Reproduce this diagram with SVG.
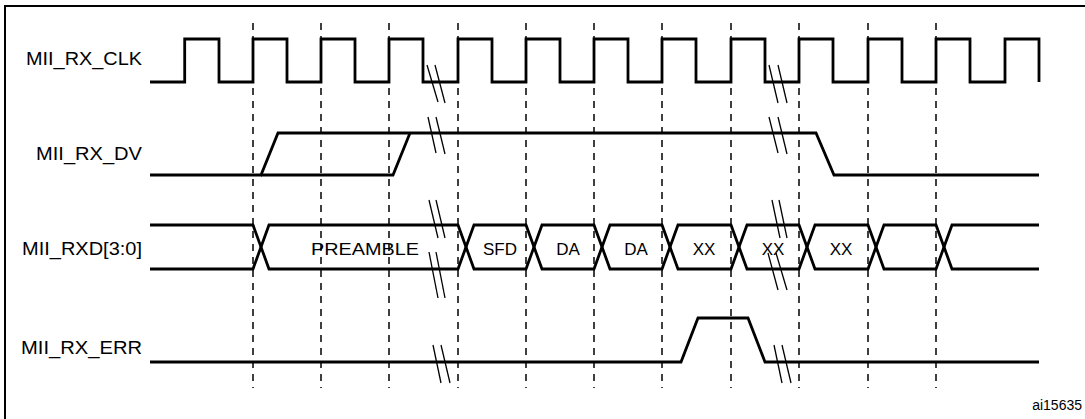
<svg xmlns="http://www.w3.org/2000/svg" width="1085" height="419" viewBox="0 0 1085 419">
<style>
.sig{fill:none;stroke:#000;stroke-width:2.8;stroke-linejoin:miter}
.dash{stroke:#000;stroke-width:1.5;stroke-dasharray:7 6}
.brk{stroke:#000;stroke-width:1.3}
.lbl{font-family:"Liberation Sans",Arial,sans-serif;font-size:18px;fill:#000}
.lab{font-family:"Liberation Sans",Arial,sans-serif;font-size:17px;fill:#000;text-anchor:middle}
</style>
<rect x="0" y="0" width="1085" height="419" fill="#fff"/>
<rect x="5" y="6" width="1090" height="420" fill="none" stroke="#000" stroke-width="2"/>
<g id="grid">
<line class="dash" x1="253" y1="23" x2="253" y2="388"/>
<line class="dash" x1="321" y1="23" x2="321" y2="388"/>
<line class="dash" x1="389" y1="23" x2="389" y2="388"/>
<line class="dash" x1="458" y1="23" x2="458" y2="388"/>
<line class="dash" x1="526" y1="23" x2="526" y2="388"/>
<line class="dash" x1="594" y1="23" x2="594" y2="388"/>
<line class="dash" x1="662" y1="23" x2="662" y2="388"/>
<line class="dash" x1="731" y1="23" x2="731" y2="388"/>
<line class="dash" x1="799" y1="23" x2="799" y2="388"/>
<line class="dash" x1="868" y1="23" x2="868" y2="388"/>
<line class="dash" x1="936" y1="23" x2="936" y2="388"/>
</g>
<g id="labels">
<text class="lbl" x="142" y="65" text-anchor="end" textLength="116" lengthAdjust="spacingAndGlyphs">MII_RX_CLK</text>
<text class="lbl" x="142" y="160" text-anchor="end" textLength="106" lengthAdjust="spacingAndGlyphs">MII_RX_DV</text>
<text class="lbl" x="142" y="255" text-anchor="end" textLength="120" lengthAdjust="spacingAndGlyphs">MII_RXD[3:0]</text>
<text class="lbl" x="142" y="354" text-anchor="end" textLength="121" lengthAdjust="spacingAndGlyphs">MII_RX_ERR</text>
</g>
<g id="clk">
<path class="sig" d="M150,82 H184.7 V39 H219 V82 H253 V39 H287 V82 H321 V39 H355 V82 H389 V39 H423 V82 H458 V39 H492 V82 H526 V39 H560 V82 H594 V39 H628 V82 H662 V39 H696 V82 H731 V39 H765 V82 H799 V39 H833 V82 H868 V39 H902 V82 H936 V39 H970 V82 H1005 V39 H1039 V82"/>
</g>
<g id="dv">
<path class="sig" d="M150,175 H261 L278,133 H816 L834,175 H1039"/>
<path class="sig" d="M261,175 H393 L410,133"/>
</g>
<g id="rxd">
<path class="sig" d="M150,225 H253 L269,269 H458 L474,225 H526 L542,269 H594 L610,225 H662 L678,269 H731 L747,225 H799 L815,269 H868 L884,225 H936 L952,269 H1039"/>
<path class="sig" d="M150,269 H253 L269,225 H458 L474,269 H526 L542,225 H594 L610,269 H662 L678,225 H731 L747,269 H799 L815,225 H868 L884,269 H936 L952,225 H1039"/>
<text class="lab" x="365" y="255" textLength="108" lengthAdjust="spacingAndGlyphs">PREAMBLE</text>
<text class="lab" x="500" y="255">SFD</text>
<text class="lab" x="568" y="255">DA</text>
<text class="lab" x="636" y="255">DA</text>
<text class="lab" x="704" y="255">XX</text>
<text class="lab" x="773" y="255">XX</text>
<text class="lab" x="841" y="255">XX</text>
</g>
<g id="err">
<path class="sig" d="M150,362 H681 L698,318 H748 L765,362 H1039"/>
</g>
<g id="breaks">
<line class="brk" x1="427" y1="65" x2="438" y2="102"/><line class="brk" x1="435" y1="65" x2="445" y2="103"/>
<line class="brk" x1="428" y1="117" x2="436" y2="153"/><line class="brk" x1="436" y1="117" x2="445" y2="154"/>
<line class="brk" x1="429" y1="200" x2="438" y2="238"/><line class="brk" x1="436" y1="200" x2="445" y2="238"/>
<line class="brk" x1="429" y1="252" x2="438" y2="298"/><line class="brk" x1="436" y1="252" x2="445" y2="298"/>
<line class="brk" x1="433" y1="345" x2="441" y2="383"/><line class="brk" x1="441" y1="345" x2="450" y2="383"/>
<line class="brk" x1="769" y1="65" x2="778" y2="103"/><line class="brk" x1="778" y1="65" x2="787" y2="103"/>
<line class="brk" x1="769" y1="117" x2="778" y2="153"/><line class="brk" x1="778" y1="117" x2="787" y2="154"/>
<line class="brk" x1="772" y1="200" x2="780" y2="238"/><line class="brk" x1="779" y1="200" x2="787" y2="238"/>
<line class="brk" x1="768" y1="253" x2="778" y2="290"/><line class="brk" x1="776" y1="253" x2="787" y2="290"/>
<line class="brk" x1="774" y1="345" x2="782" y2="383"/><line class="brk" x1="782" y1="345" x2="791" y2="383"/>
</g>
<text x="1082" y="410" text-anchor="end" style="font-family:'Liberation Sans',Arial,sans-serif;font-size:14px">ai15635</text>
</svg>
